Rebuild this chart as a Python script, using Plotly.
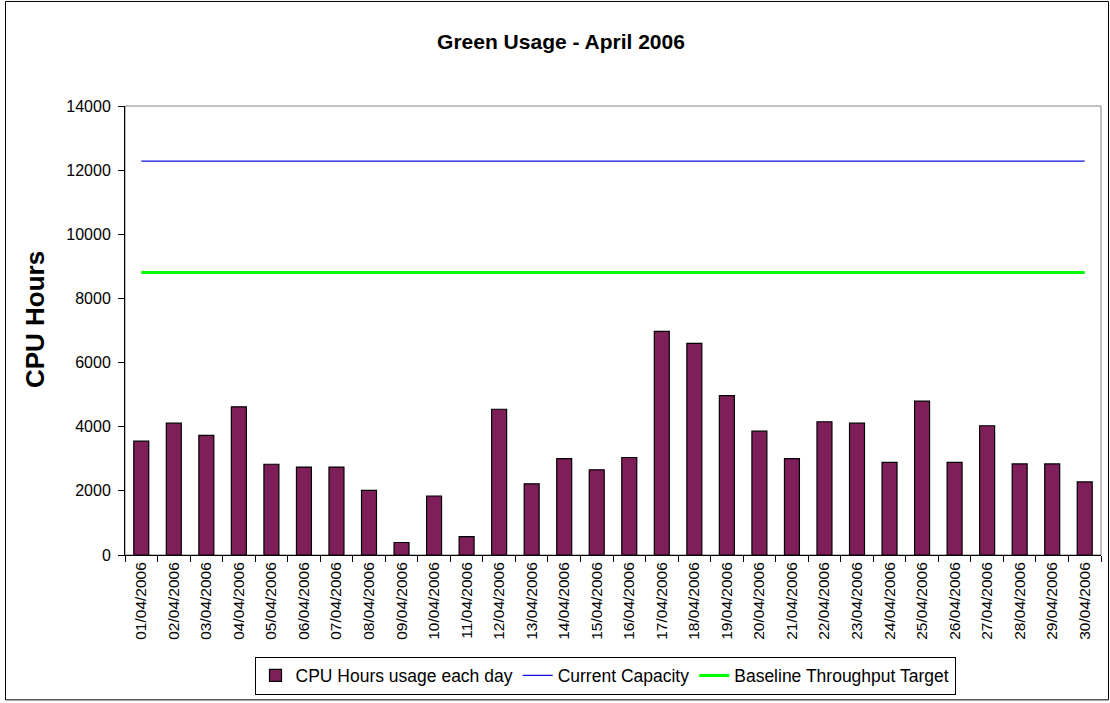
import plotly.graph_objects as go

dates = [f"{d:02d}/04/2006" for d in range(1, 31)]
usage = [3550, 4110, 3730, 4620, 2830, 2740, 2740, 2015, 390, 1840,
         570, 4545, 2220, 3005, 2655, 3040, 6975, 6600, 4970, 3860,
         3005, 4155, 4110, 2885, 4795, 2885, 4030, 2840, 2840, 2280]
capacity = [12280] * 30
baseline = [8810] * 30

FONT = "Arial, Liberation Sans, sans-serif"

fig = go.Figure()
fig.add_trace(go.Bar(
    x=dates, y=usage, name="CPU Hours usage each day",
    marker=dict(color="#7F1F5A", line=dict(color="black", width=1.2)),
))
fig.add_trace(go.Scatter(
    x=dates, y=capacity, name="Current Capacity", mode="lines",
    line=dict(color="#1010E0", width=1.3),
))
fig.add_trace(go.Scatter(
    x=dates, y=baseline, name="Baseline Throughput Target", mode="lines",
    line=dict(color="#00FF00", width=3),
))

W, H = 1110, 703
L, R, T, B = 125, 9, 106, 146
pw, ph = W - L - R, H - T - B

fig.update_layout(
    width=W, height=H,
    margin=dict(l=L, r=R, t=T, b=B, pad=0),
    paper_bgcolor="white", plot_bgcolor="white",
    bargap=0.54,
    font=dict(family=FONT, color="black"),
    title=dict(text="<b>Green Usage - April 2006</b>", x=561 / W, xref="container",
               y=1 - 42 / H, yref="container", yanchor="middle", xanchor="center",
               font=dict(size=21, family=FONT, color="black")),
    showlegend=True,
    legend=dict(orientation="h", x=(605 - L) / pw, xanchor="center",
                y=(H - B - 659) / ph, yanchor="top",
                bordercolor="black", borderwidth=1, bgcolor="white",
                font=dict(size=17.5, family=FONT), traceorder="normal",
                itemwidth=30, tracegroupgap=0),
    shapes=[
        dict(type="rect", xref="paper", yref="paper", x0=0, x1=1, y0=0, y1=1,
             line=dict(color="#808080", width=1), layer="below"),
        dict(type="rect", xref="paper", yref="paper",
             x0=(5.5 - L) / pw, x1=(W - 1.5 - L) / pw,
             y0=-(H - 0.5 - (H - B)) / ph, y1=1 + (T - 1) / ph,
             line=dict(color="black", width=1), layer="below"),
    ],
    annotations=[
        dict(text="<b>CPU Hours</b>", textangle=-90, xref="paper", yref="paper",
             x=(35 - L) / pw, y=(H - B - 321) / ph, xanchor="center", yanchor="middle",
             showarrow=False, font=dict(size=26, family=FONT, color="black")),
    ],
)

fig.update_xaxes(
    type="category", tickangle=-90, tickson="boundaries",
    ticks="outside", ticklen=6, tickcolor="black",
    showline=True, linecolor="black", linewidth=1,
    showgrid=False, tickfont=dict(size=15.5, family=FONT),
)
fig.update_yaxes(
    range=[0, 14000], dtick=2000, tickformat="d",
    ticks="outside", ticklen=6, tickcolor="black", ticklabelstandoff=4,
    showline=True, linecolor="black", linewidth=1,
    showgrid=False, zeroline=False, tickfont=dict(size=16, family=FONT),
)

fig.write_html("out.html", config={"displayModeBar": False},
               post_script="document.body.style.margin='0';")
